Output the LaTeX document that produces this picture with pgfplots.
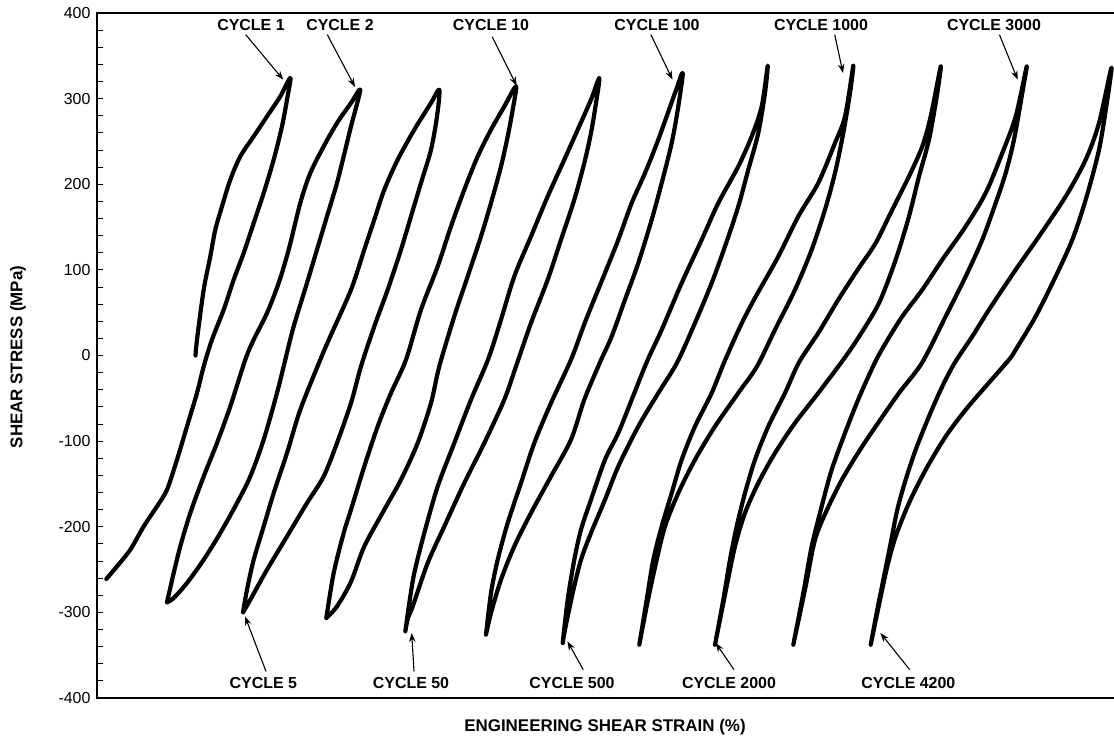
\documentclass[border=0pt]{standalone}
\usepackage{pgfplots}
\pgfplotsset{compat=1.18}
\usepackage{fontspec}
\setmainfont{Liberation Sans}
\usetikzlibrary{arrows.meta}

\begin{document}
\begin{tikzpicture}[x=1bp,y=1bp]
\begin{axis}[
  at={(0,0)}, anchor=south west,
  scale only axis,
  width=1030bp, height=685bp,
  xmin=0, xmax=10.30,
  ymin=-400, ymax=400,
  xtick=\empty,
  ytick={-400,-300,...,400},
  minor y tick num=4,
  ytick pos=left,
  tick align=inside,
  major tick length=6bp,
  minor tick length=6bp,
  every tick/.style={black, line width=0.9bp},
  axis line style={line width=1.4bp, black},
  /pgf/number format/assume math mode=true,
  yticklabel style={font=\fontsize{16}{16}\selectfont, xshift=-3bp},
  clip=false,
  cycle list={{black}},
  no markers,
  every axis plot/.append style={line width=4.2bp, line join=round, line cap=round, smooth, tension=0.5},
]
% cycle 1: monotonic loading from zero, then reversal to compression
\addplot coordinates {
(0.985,0) (1.00,18.5) (1.067,76.8) (1.133,115.7) (1.183,146.9) (1.25,174.1)
(1.333,205.3) (1.433,232.5) (1.567,255.9) (1.70,279.2) (1.833,302.6) (1.933,324.1)
(1.90,298.7) (1.85,267.6) (1.767,228.7) (1.667,189.8) (1.567,154.7) (1.467,119.7)
(1.367,88.5) (1.267,53.5) (1.15,18.5) (1.067,-12.7) (1.00,-43.8) (0.90,-82.8)
(0.80,-121.7) (0.70,-156.7) (0.60,-176.2) (0.467,-199.6) (0.333,-226.8)
(0.20,-246.3) (0.093,-261.0)
};
% cycle 2
\addplot coordinates {
(0.70,-288.3) (0.767,-254.0) (0.833,-222.9) (0.933,-183.9) (1.067,-141.2)
(1.20,-102.2) (1.333,-59.4) (1.483,-4.9) (1.567,18.5) (1.70,49.6) (1.817,84.7)
(1.917,123.6) (2.033,178.1) (2.133,213.1) (2.267,244.2) (2.40,271.5) (2.54,294.9)
(2.633,310.4)
(2.54,267.6) (2.483,240.3) (2.40,201.5) (2.30,162.5) (2.20,123.6) (2.10,84.7)
(1.967,34.0) (1.883,-4.9) (1.80,-43.8) (1.667,-98.3) (1.533,-141.2) (1.40,-172.3)
(1.233,-207.3) (1.067,-238.5) (0.90,-265.7) (0.767,-283.2) (0.70,-288.3)
};
% cycle 5
\addplot coordinates {
(1.46,-300.0) (1.50,-273.5) (1.567,-238.5) (1.667,-199.6) (1.767,-160.6)
(1.90,-113.9) (2.033,-63.3) (2.233,-4.9) (2.333,22.3) (2.54,76.8)
(2.673,123.6) (2.773,158.6) (2.873,193.6) (3.007,228.7) (3.173,263.7) (3.34,294.9)
(3.423,310.4)
(3.40,279.2) (3.34,240.3) (3.24,201.5) (3.14,162.5) (3.04,123.6) (2.907,76.8)
(2.773,34.0) (2.64,-12.7) (2.54,-55.5) (2.40,-102.2) (2.267,-141.2) (2.10,-172.3)
(1.90,-211.3) (1.70,-250.2) (1.533,-285.2) (1.46,-300.0)
};
% cycle 10
\addplot coordinates {
(2.293,-306.6) (2.367,-254.0) (2.467,-207.3) (2.54,-180.1) (2.673,-129.5)
(2.807,-82.8) (2.94,-43.8) (3.09,-4.9) (3.24,53.5) (3.407,104.1) (3.54,150.8)
(3.673,193.6) (3.807,232.5) (3.94,263.7) (4.073,290.9) (4.19,314.3)
(4.157,287.1) (4.107,255.9) (4.04,220.8) (3.94,178.1) (3.84,139.1) (3.707,92.4)
(3.573,45.7) (3.423,-12.7) (3.34,-55.5) (3.207,-102.2) (3.04,-145.0)
(2.873,-180.1) (2.673,-222.9) (2.54,-264.2) (2.40,-293.0) (2.293,-306.6)
};
% cycle 50
\addplot coordinates {
(3.083,-322.2) (3.123,-289.1) (3.173,-254.0) (3.273,-207.3) (3.407,-152.9)
(3.573,-102.2) (3.74,-51.6) (3.91,-4.9) (4.03,38.0) (4.173,92.4) (4.34,139.1)
(4.507,185.8) (4.673,228.7) (4.807,263.7) (4.94,298.7) (5.023,324.1)
(4.99,294.9) (4.94,259.9) (4.873,224.8) (4.773,182.0) (4.64,135.2) (4.507,88.5)
(4.34,38.0) (4.19,-12.7) (4.073,-51.6) (3.873,-102.2) (3.673,-148.9)
(3.473,-199.6) (3.307,-242.3) (3.157,-293.0) (3.11,-306.2) (3.083,-322.2)
};
% cycle 100
\addplot coordinates {
(3.89,-326.0) (3.94,-277.4) (4.007,-238.5) (4.107,-195.6) (4.24,-148.9)
(4.373,-102.2) (4.54,-55.5) (4.74,-4.9) (4.89,41.8) (5.08,96.4) (5.213,135.2)
(5.347,178.1) (5.48,213.1) (5.613,252.1) (5.78,306.6) (5.857,329.9)
(5.813,290.9) (5.747,248.2) (5.647,201.5) (5.547,158.6) (5.413,108.0)
(5.28,65.2) (5.147,22.3) (5.03,-8.0) (4.873,-51.6) (4.74,-98.3) (4.54,-141.2)
(4.34,-183.9) (4.173,-222.9) (4.04,-261.8) (3.94,-300.7) (3.89,-326.0)
};
% cycle 500
\addplot coordinates {
(4.657,-335.8) (4.707,-285.2) (4.773,-238.5) (4.84,-203.4) (4.94,-168.4)
(5.08,-121.7) (5.213,-90.5) (5.347,-51.6) (5.50,-7.0) (5.647,30.1) (5.847,84.7)
(6.047,135.2) (6.213,178.1) (6.413,220.8) (6.547,255.9) (6.647,290.9)
(6.707,338.5)
(6.68,306.6) (6.613,259.9) (6.513,217.0) (6.413,174.1) (6.28,127.4)
(6.147,84.7) (5.98,38.0) (5.80,-8.5) (5.613,-43.8) (5.413,-82.8) (5.213,-129.5)
(5.08,-168.4) (4.94,-207.3) (4.84,-238.5) (4.757,-277.4) (4.68,-320.2)
(4.657,-335.8)
};
% cycle 1000
\addplot coordinates {
(5.423,-337.8) (5.497,-285.2) (5.563,-238.5) (5.647,-199.6) (5.747,-160.6)
(5.847,-121.7) (5.98,-82.8) (6.147,-43.8) (6.27,-8.4) (6.43,33.4)
(6.57,65.2) (6.813,115.7) (7.013,162.5) (7.213,201.5) (7.38,248.2)
(7.48,279.2) (7.563,338.5)
(7.53,306.6) (7.463,259.9) (7.38,213.1) (7.28,170.3) (7.147,123.6) (6.98,76.8)
(6.78,30.1) (6.60,-12.7) (6.413,-43.8) (6.18,-82.8) (5.98,-121.7)
(5.813,-160.6) (5.68,-199.6) (5.597,-238.5) (5.51,-285.2) (5.423,-337.8)
};
% cycle 2000
\addplot coordinates {
(6.18,-337.8) (6.263,-285.2) (6.33,-238.5) (6.397,-199.6) (6.48,-160.6)
(6.58,-121.7) (6.713,-82.8) (6.88,-43.8) (7.02,-8.0) (7.213,26.3)
(7.413,65.2) (7.62,102.5) (7.787,131.4) (7.953,170.3) (8.12,209.2)
(8.253,244.2) (8.337,279.2) (8.437,337.6)
(8.403,306.6) (8.32,252.1) (8.22,209.2) (8.12,162.5) (7.987,111.9)
(7.82,61.3) (7.62,22.0) (7.463,-4.9) (7.213,-43.8) (6.98,-78.8) (6.78,-113.9)
(6.613,-148.9) (6.48,-183.9) (6.38,-222.9) (6.29,-273.5) (6.18,-337.8)
};
% cycle 3000
\addplot coordinates {
(6.963,-337.8) (7.063,-277.4) (7.147,-222.9) (7.247,-176.2) (7.347,-133.4)
(7.48,-90.5) (7.62,-49.3) (7.78,-8.0) (7.887,14.6) (8.053,45.7) (8.253,76.8)
(8.453,111.9) (8.687,150.8) (8.887,189.8) (9.053,236.5) (9.187,279.2)
(9.297,337.6)
(9.253,306.6) (9.17,252.1) (9.087,213.1) (8.987,178.1) (8.853,135.2)
(8.687,92.4) (8.487,45.7) (8.25,-8.5) (8.02,-43.8) (7.787,-82.8)
(7.62,-112.0) (7.45,-145.0) (7.30,-180.1) (7.18,-215.1) (7.09,-267.6)
(6.963,-337.8)
};
% cycle 4200
\addplot coordinates {
(7.737,-337.8) (7.803,-296.9) (7.87,-258.0) (7.937,-219.0) (8.003,-180.1)
(8.087,-145.0) (8.187,-110.0) (8.32,-71.1) (8.453,-36.1) (8.58,-8.0)
(8.753,22.3) (8.92,53.5) (9.187,100.2) (9.42,139.1) (9.687,185.8)
(9.887,228.7) (10.02,271.5) (10.143,335.8)
(10.103,298.7) (10.02,240.3) (9.887,182.0) (9.753,135.2) (9.587,92.4)
(9.387,45.7) (9.187,6.8) (9.12,-4.9) (8.887,-36.1) (8.687,-63.3)
(8.487,-94.5) (8.287,-133.4) (8.12,-172.3) (7.987,-211.3) (7.903,-246.3)
(7.82,-291.0) (7.737,-337.8)
};

% cycle annotations
\tikzset{cyc/.style={font=\bfseries\fontsize{16}{16}\selectfont, inner sep=0pt},
         pt/.style={line width=1.1bp, -{Stealth[length=9bp,width=6.5bp]}}}
\node[cyc] at (axis cs:1.54,386.3) {CYCLE 1};
\node[cyc] at (axis cs:2.43,386.3) {CYCLE 2};
\node[cyc] at (axis cs:3.94,386.3) {CYCLE 10};
\node[cyc] at (axis cs:5.60,386.3) {CYCLE 100};
\node[cyc] at (axis cs:7.24,386.3) {CYCLE 1000};
\node[cyc] at (axis cs:8.97,386.3) {CYCLE 3000};
\node[cyc] at (axis cs:1.663,-382.5) {CYCLE 5};
\node[cyc] at (axis cs:3.14,-382.5) {CYCLE 50};
\node[cyc] at (axis cs:4.75,-382.5) {CYCLE 500};
\node[cyc] at (axis cs:6.32,-382.5) {CYCLE 2000};
\node[cyc] at (axis cs:8.114,-382.5) {CYCLE 4200};
\draw[pt] (axis cs:1.487,374.7) -- (axis cs:1.863,322.1);
\draw[pt] (axis cs:2.303,374.7) -- (axis cs:2.58,313.6);
\draw[pt] (axis cs:3.953,372.0) -- (axis cs:4.197,315.1);
\draw[pt] (axis cs:5.539,374.7) -- (axis cs:5.755,322.1);
\draw[pt] (axis cs:7.377,374.7) -- (axis cs:7.46,329.9);
\draw[pt] (axis cs:9.024,374.7) -- (axis cs:9.207,322.1);
\draw[pt] (axis cs:1.69,-368.9) -- (axis cs:1.48,-304.7);
\draw[pt] (axis cs:3.17,-368.9) -- (axis cs:3.147,-324.1);
\draw[pt] (axis cs:4.862,-366.9) -- (axis cs:4.705,-333.9);
\draw[pt] (axis cs:6.37,-366.9) -- (axis cs:6.187,-335.8);
\draw[pt] (axis cs:8.127,-366.9) -- (axis cs:7.834,-324.1);
\end{axis}
% axis titles
\node[font=\bfseries\fontsize{17}{17}\selectfont] at (508,-29) {ENGINEERING SHEAR STRAIN (\%)};
\node[font=\bfseries\fontsize{17}{17}\selectfont, rotate=90] at (-79,341) {SHEAR STRESS (MPa)};
\pgfresetboundingbox
\path[use as bounding box] (-97,-40) rectangle (1017,698);
\end{tikzpicture}
\end{document}
